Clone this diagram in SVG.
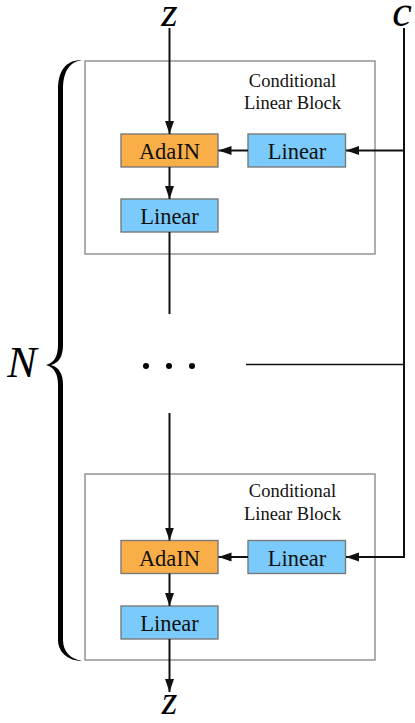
<svg xmlns="http://www.w3.org/2000/svg" width="415" height="723" viewBox="0 0 415 723">
<defs>
<style>
text{font-family:"Liberation Serif","Times New Roman",Times,"DejaVu Serif",serif}
.blk{fill:#fff;stroke:#8c8c8c;stroke-width:1.4}
.ada{fill:#F9AE48;stroke:#7a7a7a;stroke-width:1.4}
.lin{fill:#7ACBFB;stroke:#7a7a7a;stroke-width:1.4}
.lbl{font-size:22.5px;fill:#111;text-anchor:middle}
.ttl{font-size:18.5px;fill:#111;text-anchor:middle}
.math{font-style:italic;fill:#000;text-anchor:middle}
.ln{fill:none;stroke:#111;stroke-width:2}
.thin{fill:none;stroke:#111;stroke-width:1.4}
</style>
<marker id="ah" markerUnits="userSpaceOnUse" markerWidth="14" markerHeight="10" refX="13" refY="4.5" orient="auto">
<path d="M0,0 L13,4.5 L0,9 Z" fill="#111"/>
</marker>
</defs>
<rect width="415" height="723" fill="#fff"/>

<g id="block1">
<rect class="blk" x="85" y="61" width="290" height="193"/>
<text class="ttl" x="292.5" y="87">Conditional</text>
<text class="ttl" x="292.5" y="109">Linear Block</text>
</g>
<g id="adain1"><rect class="ada" x="121" y="134" width="97" height="33"/><text class="lbl" x="169.5" y="159">AdaIN</text></g>
<g id="linc1"><rect class="lin" x="248" y="134" width="97.5" height="33"/><text class="lbl" x="297" y="159">Linear</text></g>
<g id="lin1"><rect class="lin" x="121" y="199" width="97" height="33"/><text class="lbl" x="169.5" y="224">Linear</text></g>

<g id="block2">
<rect class="blk" x="85" y="474" width="290" height="186"/>
<text class="ttl" x="292.5" y="497">Conditional</text>
<text class="ttl" x="292.5" y="520">Linear Block</text>
</g>
<g id="adain2"><rect class="ada" x="121" y="540.5" width="97" height="33"/><text class="lbl" x="169.5" y="565.5">AdaIN</text></g>
<g id="linc2"><rect class="lin" x="248" y="540.5" width="97.5" height="33"/><text class="lbl" x="297" y="565.5">Linear</text></g>
<g id="lin2"><rect class="lin" x="121" y="606" width="97" height="33"/><text class="lbl" x="169.5" y="631">Linear</text></g>

<g id="labels">
<text class="math" x="169.5" y="26" font-size="42">z</text>
<text class="math" x="169.5" y="714" font-size="40">z</text>
<text class="math" x="402" y="26" font-size="44">c</text>
<text class="math" x="22" y="377" font-size="44">N</text>
</g>

<g id="brace">
<path d="M82,60 C68,60 58,68 58,90 L58,345 C58,356 54,363 46,365 C54,367 58,374 58,385 L58,640 C58,652 68,661 82,661 C71,659 63,652 63,640 L63,385 C63,374 59,367 51,365 C59,363 63,356 63,345 L63,90 C63,69 71,62 82,60 Z" fill="#000"/>
</g>

<g id="dots" fill="#000">
<circle cx="146" cy="366" r="3"/>
<circle cx="169" cy="366" r="3"/>
<circle cx="192" cy="366" r="3"/>
</g>

<g id="connectors">
<line class="ln" x1="169.5" y1="28" x2="169.5" y2="134" marker-end="url(#ah)"/>
<line class="ln" x1="169.5" y1="167" x2="169.5" y2="199" marker-end="url(#ah)"/>
<line class="ln" x1="248" y1="150.5" x2="218.5" y2="150.5" marker-end="url(#ah)"/>
<line class="ln" x1="169.5" y1="232" x2="169.5" y2="314"/>
<line class="ln" x1="169.5" y1="413" x2="169.5" y2="540.5" marker-end="url(#ah)"/>
<line class="ln" x1="169.5" y1="573.5" x2="169.5" y2="606" marker-end="url(#ah)"/>
<line class="ln" x1="248" y1="557" x2="218.5" y2="557" marker-end="url(#ah)"/>
<line class="ln" x1="169.5" y1="639" x2="169.5" y2="692" marker-end="url(#ah)"/>
<line class="ln" x1="404" y1="28" x2="404" y2="557"/>
<line class="ln" x1="405" y1="150.5" x2="346" y2="150.5" marker-end="url(#ah)"/>
<line class="ln" x1="405" y1="557" x2="346" y2="557" marker-end="url(#ah)"/>
<line class="thin" x1="246" y1="364.5" x2="404" y2="364.5"/>
</g>
</svg>
